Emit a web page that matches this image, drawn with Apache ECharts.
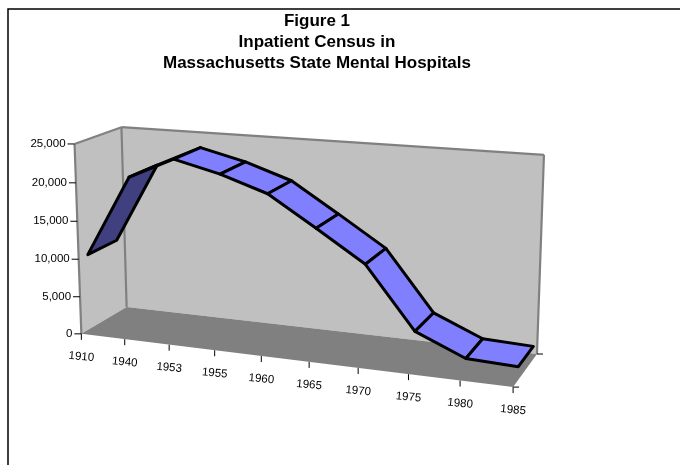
<!DOCTYPE html>
<html><head><meta charset="utf-8">
<style>html,body{margin:0;padding:0;background:#fff}#c{width:680px;height:465px}</style>
<script src="https://cdn.jsdelivr.net/npm/echarts@6/dist/echarts.min.js"></script>
</head><body><div id="c"></div>
<script>
const titleLines = ['Figure 1', 'Inpatient Census in', 'Massachusetts State Mental Hospitals'];
const categories = ['1910','1940','1953','1955','1960','1965','1970','1975','1980','1985'];
const census = [10000,20700,23450,22000,20000,16200,12300,4600,1950,1700];
const yTicks = [0,5000,10000,15000,20000,25000];
const yLabels = ['0','5,000','10,000','15,000','20,000','25,000'];

// Camera: projective map fitted to the box corners seen in the picture
const anchors = [
 [0,0,0,81,333],[1,0,0,513,388],[0,0,1,127,308],[1,0,1,537,353],
 [0,1,0,75,144],[0,1,1,121,127],[1,1,1,544,155]
];
function fitCamera(){
  const rows=[],rhs=[];
  anchors.forEach(([a,b,c,x,y])=>{
    const sx=x/100, sy=y/100;
    rows.push([a,b,c,1,0,0,0,0,-sx*a,-sx*b,-sx*c]); rhs.push(sx);
    rows.push([0,0,0,0,a,b,c,1,-sy*a,-sy*b,-sy*c]); rhs.push(sy);
  });
  const n=11, M=[];
  for(let i=0;i<n;i++){
    M.push(new Array(n+1).fill(0));
    for(let j=0;j<n;j++) rows.forEach(r=>{M[i][j]+=r[i]*r[j];});
    rows.forEach((r,k)=>{M[i][n]+=r[i]*rhs[k];});
    M[i][i]+=1e-9;
  }
  for(let i=0;i<n;i++){
    let p=i; for(let k=i+1;k<n;k++) if(Math.abs(M[k][i])>Math.abs(M[p][i])) p=k;
    [M[i],M[p]]=[M[p],M[i]];
    for(let k=0;k<n;k++){ if(k===i) continue; const f=M[k][i]/M[i][i];
      for(let j=i;j<=n;j++) M[k][j]-=f*M[i][j]; }
  }
  return M.map((r,i)=>r[n]/r[i]);
}
const C=fitCamera();
function proj(a,b,c){
  const d=C[8]*a+C[9]*b+C[10]*c+1;
  return [100*(C[0]*a+C[1]*b+C[2]*c+C[3])/d, 100*(C[4]*a+C[5]*b+C[6]*c+C[7])/d];
}
const FRONT=0.19, BACK=0.82;
const FONT='"Liberation Sans", Arial, sans-serif';
// unit coordinates through the chart's own axes
function unit(api,i,val){
  const o=api.coord([0,0]), e=api.coord([categories.length-1,yTicks[yTicks.length-1]]), p=api.coord([i,val]);
  return [(p[0]-o[0])/(e[0]-o[0]), (p[1]-o[1])/(e[1]-o[1])];
}
const poly=(pts,style)=>({type:'polygon',shape:{points:pts},style});
const line=(a,b,stroke,w)=>({type:'line',shape:{x1:a[0],y1:a[1],x2:b[0],y2:b[1]},style:{stroke,lineWidth:w}});

function renderBox(params,api){
  const g='#808080', wall='#c0c0c0', kids=[];
  kids.push(poly([proj(0,0,0),proj(0,1,0),proj(0,1,1),proj(0,0,1)],{fill:wall}));
  kids.push(poly([proj(0,0,1),proj(0,1,1),proj(1,1,1),proj(1,0,1)],{fill:wall}));
  kids.push(poly([proj(0,0,0),proj(0,0,1),proj(1,0,1),proj(1,0,0)],{fill:g}));
  kids.push(line(proj(0,0,0),proj(0,1,0),g,2.2));
  kids.push(line(proj(0,1,0),proj(0,1,1),g,2.2));
  kids.push(line(proj(0,1,1),proj(0,0,1),g,2.2));
  kids.push(line(proj(0,1,1),proj(1,1,1),g,2.2));
  kids.push(line(proj(1,1,1),proj(1,0,1),g,2.2));
  // end ticks of the depth axis
  const r=proj(1,0,1), f=proj(1,0,0);
  kids.push(line(r,[r[0]+6,r[1]],'#000',1));
  kids.push(line(f,[f[0]+6,f[1]],'#000',1));
  return {type:'group',children:kids};
}
function renderRibbon(params,api){
  const i=api.value(0), v=api.value(1);
  if(i>=categories.length-1) return null;
  const v2=census[i+1];
  const a=unit(api,i,v), b=unit(api,i+1,v2);
  const pts=[proj(a[0],a[1],FRONT),proj(b[0],b[1],FRONT),proj(b[0],b[1],BACK),proj(a[0],a[1],BACK)];
  return poly(pts,{fill:v2>v?'#404080':'#8080ff',stroke:'#000',lineWidth:3,lineJoin:'round'});
}
function renderXLabel(params,api){
  const i=api.value(0), u=unit(api,i,0), p=proj(u[0],0,0);
  return {type:'group',children:[
    line(p,[p[0],p[1]+6],'#000',1),
    {type:'text',x:p[0],y:p[1]+23,rotation:-0.09,style:{text:categories[i],textAlign:'center',textVerticalAlign:'middle',font:'11.5px '+FONT,fill:'#000'}}
  ]};
}
function renderYLabel(params,api){
  const i=params.dataIndex, u=unit(api,0,yTicks[i]), p=proj(0,u[1],0);
  return {type:'group',children:[
    line([p[0]-7,p[1]],p,'#000',1),
    {type:'text',x:p[0]-9,y:p[1],style:{text:yLabels[i],textAlign:'right',textVerticalAlign:'middle',font:'11.5px '+FONT,fill:'#000'}}
  ]};
}
const chart=echarts.init(document.getElementById('c'));
chart.setOption({
  animation:false,
  backgroundColor:'#fff',
  title:{text:titleLines.join('\n'),left:312,top:6,textAlign:'center',
    textStyle:{fontFamily:FONT,fontWeight:'bold',fontSize:17,lineHeight:21,color:'#000'}},
  grid:{left:0,right:0,top:0,bottom:0},
  xAxis:{type:'category',data:categories,boundaryGap:false,show:false},
  yAxis:{type:'value',min:0,max:25000,interval:5000,show:false},
  graphic:[{type:'polyline',shape:{points:[[8,470],[8,9],[690,9]]},style:{stroke:'#000',fill:'none',lineWidth:1.5},silent:true}],
  series:[
    {type:'custom',silent:true,coordinateSystem:'cartesian2d',data:[[0,0]],renderItem:renderBox,z:1,clip:false},
    {type:'custom',silent:true,coordinateSystem:'cartesian2d',data:categories.map((c,i)=>[i,0]),renderItem:renderXLabel,z:2,clip:false},
    {type:'custom',silent:true,coordinateSystem:'cartesian2d',data:yTicks.map(t=>[0,t]),renderItem:renderYLabel,z:2,clip:false},
    {type:'custom',silent:true,coordinateSystem:'cartesian2d',data:census.map((v,i)=>[i,v]),renderItem:renderRibbon,z:3,clip:false}
  ]
});
</script></body></html>
